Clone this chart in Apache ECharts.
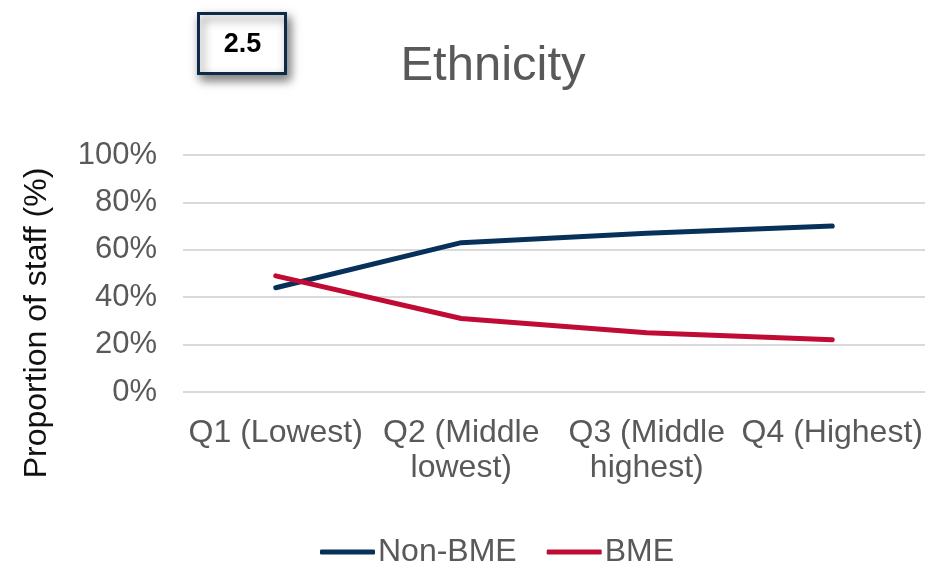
<!DOCTYPE html>
<html>
<head>
<meta charset="utf-8">
<title>Ethnicity</title>
<script src="https://cdn.jsdelivr.net/npm/echarts@6/dist/echarts.min.js"></script>
<style>
  html, body { margin: 0; padding: 0; background: #ffffff; }
  #chart { width: 940px; height: 561px; }
</style>
</head>
<body>
<div id="chart"></div>
<script>
// Pay quartiles along the x axis
const quartiles = ['Q1 (Lowest)', 'Q2 (Middle\nlowest)', 'Q3 (Middle\nhighest)', 'Q4 (Highest)'];
// Share of staff in each quartile (%)
const nonBME = [44, 63, 67, 70];
const bme = [49, 31, 25, 22];
// Value axis ticks
const yTicks = [0, 20, 40, 60, 80, 100];

const FONT = '"Liberation Sans", Arial, sans-serif';
const GREY = '#595959';

const chart = echarts.init(document.getElementById('chart'), null, { renderer: 'canvas' });

chart.setOption({
  backgroundColor: '#ffffff',
  animation: false,
  title: {
    text: 'Ethnicity',
    left: 488,
    textAlign: 'center',
    top: 37,
    textStyle: { fontFamily: FONT, fontSize: 49, fontWeight: 'normal', color: GREY }
  },
  legend: {
    data: ['Non-BME', 'BME'],
    left: 315,
    top: 531,
    icon: 'roundRect',
    itemWidth: 55,
    itemHeight: 5,
    itemGap: 30,
    textStyle: { fontFamily: FONT, fontSize: 32, color: GREY, padding: [0, 0, 0, -2] }
  },
  grid: { left: 183, right: 15, top: 155, bottom: 169, containLabel: false },
  xAxis: {
    type: 'category',
    data: quartiles,
    boundaryGap: true,
    axisLine: { show: false },
    axisTick: { show: false },
    axisLabel: {
      interval: 0,
      margin: 24,
      fontFamily: FONT,
      fontSize: 32,
      lineHeight: 35,
      color: GREY
    }
  },
  yAxis: {
    type: 'value',
    min: yTicks[0],
    max: yTicks[yTicks.length - 1],
    interval: yTicks[1] - yTicks[0],
    axisLine: { show: false },
    axisTick: { show: false },
    splitLine: { lineStyle: { color: '#d9d9d9', width: 2 } },
    axisLabel: {
      margin: 26,
      fontFamily: FONT,
      fontSize: 31,
      color: GREY,
      formatter: v => v + '%'
    }
  },
  series: [
    {
      name: 'Non-BME',
      type: 'line',
      data: nonBME,
      symbol: 'none',
      color: '#08315a',
      lineStyle: { width: 5, cap: 'round', join: 'round', color: '#08315a' }
    },
    {
      name: 'BME',
      type: 'line',
      data: bme,
      symbol: 'none',
      color: '#c00c34',
      lineStyle: { width: 5, cap: 'round', join: 'round', color: '#c00c34' }
    }
  ],
  graphic: [
    // Value axis title, rotated
    {
      type: 'text',
      x: 37,
      y: 323,
      rotation: Math.PI / 2,
      style: {
        text: 'Proportion of staff (%)',
        align: 'center',
        verticalAlign: 'middle',
        fontFamily: FONT,
        fontSize: 32,
        fill: '#111111'
      }
    },
    // Figure number badge
    {
      type: 'group',
      left: 197,
      top: 12,
      children: [
        {
          type: 'rect',
          shape: { x: 0, y: 0, width: 87, height: 60 },
          style: {
            fill: '#ffffff',
            stroke: '#0d2a48',
            lineWidth: 3,
            shadowBlur: 10,
            shadowOffsetX: 3,
            shadowOffsetY: 5,
            shadowColor: 'rgba(0,0,0,0.5)'
          }
        },
        {
          type: 'text',
          style: {
            text: '2.5',
            x: 44,
            y: 31,
            align: 'center',
            verticalAlign: 'middle',
            fontFamily: FONT,
            fontSize: 27,
            fontWeight: 'bold',
            fill: '#000000'
          }
        }
      ]
    }
  ]
});
</script>
</body>
</html>
